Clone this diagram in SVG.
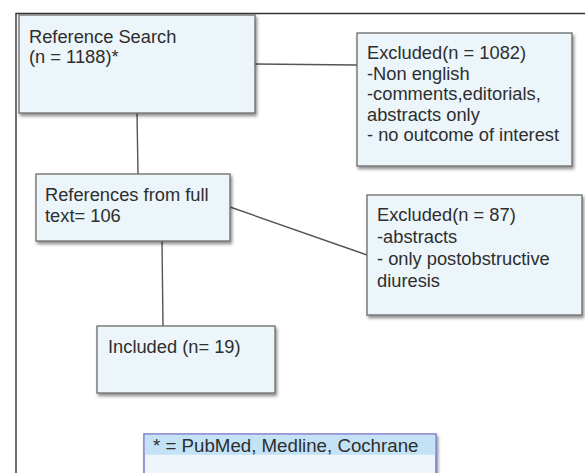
<svg xmlns="http://www.w3.org/2000/svg" width="585" height="473" viewBox="0 0 585 473">
<defs>
<filter id="sh" x="-10%" y="-10%" width="125%" height="130%">
<feDropShadow dx="1.5" dy="2.5" stdDeviation="1.8" flood-color="#000" flood-opacity="0.45"/>
</filter>
<style>
.box{fill:#EBF5FA;stroke:#6A6A6A;stroke-width:1.3;filter:url(#sh)}
.t{font-family:"Liberation Sans",Arial,sans-serif;font-size:18.3px;fill:#2E2E2E}
.c{stroke:#555;stroke-width:1.4;fill:none}
</style>
</defs>
<rect width="585" height="473" fill="#fff"/>
<path d="M16 473V13.5H585" fill="none" stroke="#333" stroke-width="1.4"/>
<g id="connectors">
<line class="c" x1="255" y1="64" x2="357" y2="65"/>
<line class="c" x1="137" y1="113" x2="138" y2="174"/>
<line class="c" x1="230" y1="207" x2="367" y2="255"/>
<line class="c" x1="162" y1="241" x2="163" y2="326"/>
</g>
<g id="n1">
<rect class="box" x="19" y="15" width="236" height="98"/>
<text class="t" x="29" y="43">Reference Search</text>
<text class="t" x="29" y="63">(n = 1188)*</text>
</g>
<g id="n2">
<rect class="box" x="357" y="33" width="215" height="133"/>
<text class="t" x="367" y="59">Excluded(n = 1082)</text>
<text class="t" x="367" y="80">-Non english</text>
<text class="t" x="367" y="100">-comments,editorials,</text>
<text class="t" x="367" y="121">abstracts only</text>
<text class="t" x="367" y="141">- no outcome of interest</text>
</g>
<g id="n3">
<rect class="box" x="36" y="174" width="194" height="67"/>
<text class="t" x="45" y="201">References from full</text>
<text class="t" x="45" y="222">text= 106</text>
</g>
<g id="n4">
<rect class="box" x="367" y="195" width="215" height="120"/>
<text class="t" x="377" y="221">Excluded(n = 87)</text>
<text class="t" x="377" y="243">-abstracts</text>
<text class="t" x="377" y="265">- only postobstructive</text>
<text class="t" x="377" y="287">diuresis</text>
</g>
<g id="n5">
<rect class="box" x="97" y="326" width="178" height="67"/>
<text class="t" x="108" y="353">Included (n= 19)</text>
</g>
<g id="n6">
<rect x="144" y="434" width="292" height="45" fill="#EEF6FC" stroke="#7A78C6" stroke-width="1.5" filter="url(#sh)"/>
<rect x="144.8" y="434.8" width="290.4" height="20" fill="#C4E2F6"/>
<text class="t" x="153" y="452" style="font-size:18.7px">* = PubMed, Medline, Cochrane</text>
</g>
</svg>
